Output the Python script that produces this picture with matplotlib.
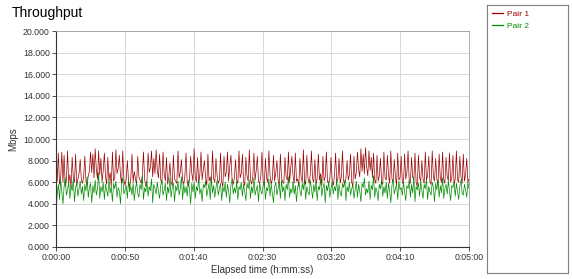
import numpy as np
import matplotlib
matplotlib.use("Agg")
import matplotlib.pyplot as plt
from matplotlib.lines import Line2D

plt.rcParams['font.family'] = ['Liberation Sans', 'DejaVu Sans']

pair1 = [
    8.9, 6.1, 8.7, 5.8, 6.4, 8.8, 6.0, 8.5, 5.6, 6.2, 8.9, 5.9, 6.7, 5.5, 8.3, 6.4, 6.0, 8.6, 5.7, 6.3,
    6.8, 8.1, 6.2, 5.9, 6.5, 8.4, 6.1, 5.7, 6.6, 7.0, 8.8, 6.9, 8.6, 6.4, 9.1, 7.2, 6.3, 8.9, 6.7, 8.2,
    6.0, 7.1, 8.7, 6.5, 5.8, 8.3, 6.2, 6.9, 5.6, 8.8, 6.1, 6.4, 9.0, 6.8, 7.3, 8.5, 6.6, 5.9, 8.9, 6.2,
    5.7, 6.3, 8.0, 6.1, 5.5, 6.4, 8.6, 6.0, 7.0, 6.3, 5.8, 8.4, 6.5, 6.2, 5.9, 6.6, 8.8, 6.3, 5.6, 6.1,
    8.7, 6.9, 7.4, 8.9, 6.5, 8.2, 6.8, 9.0, 7.1, 6.4, 8.6, 6.2, 5.9, 8.8, 6.7, 6.1, 8.3, 5.8, 6.5, 7.8,
    6.0, 5.7, 8.5, 6.3, 6.1, 5.9, 8.9, 6.4, 7.0, 8.1, 6.2, 5.8, 6.6, 8.7, 6.0, 5.6, 6.3, 8.4, 6.8, 6.1,
    9.1, 6.5, 6.0, 8.3, 5.9, 6.7, 8.8, 6.2, 7.2, 8.0, 6.4, 5.7, 8.6, 6.1, 6.5, 5.8, 8.9, 6.3, 6.0, 8.2,
    6.6, 5.9, 6.2, 8.7, 6.0, 5.6, 8.4, 6.5, 6.9, 8.8, 6.1, 7.5, 8.5, 6.3, 5.8, 6.4, 8.1, 6.2, 5.9, 8.9,
    6.4, 6.8, 8.6, 6.0, 5.7, 8.3, 6.6, 6.1, 9.0, 6.3, 5.8, 6.5, 8.7, 6.2, 7.1, 8.4, 6.0, 5.9, 6.6, 8.8,
    6.1, 5.6, 8.2, 6.4, 6.0, 8.9, 6.7, 5.8, 6.3, 8.5, 6.1, 6.9, 8.0, 6.2, 5.7, 8.6, 6.4, 6.0, 5.9, 8.3,
    6.5, 6.2, 8.8, 6.0, 7.3, 8.4, 6.6, 5.9, 8.7, 6.1, 6.3, 5.6, 8.2, 6.5, 6.0, 9.0, 6.2, 5.8, 8.5, 6.4,
    5.9, 6.7, 8.9, 6.3, 6.0, 8.1, 5.8, 6.4, 8.6, 6.2, 6.8, 5.7, 8.4, 6.1, 6.5, 8.8, 6.0, 5.9, 6.3, 8.3,
    6.2, 5.7, 6.6, 8.7, 6.0, 6.3, 8.2, 5.9, 6.5, 8.9, 6.1, 5.8, 6.4, 8.0, 6.2, 6.7, 8.6, 6.0, 5.6, 8.4,
    6.3, 6.9, 8.8, 7.2, 6.5, 9.1, 7.0, 8.6, 6.8, 9.2, 7.4, 6.6, 8.9, 7.1, 8.3, 6.4, 8.7, 6.2, 5.9, 8.5,
    6.1, 6.6, 8.2, 6.0, 5.8, 8.8, 6.4, 6.2, 8.5, 6.7, 5.9, 8.9, 6.3, 6.0, 8.1, 6.5, 5.7, 8.7, 6.2, 6.4,
    8.4, 6.0, 5.8, 8.6, 6.3, 6.9, 8.9, 6.1, 5.9, 8.3, 6.5, 6.2, 8.7, 6.0, 5.6, 8.5, 6.4, 6.1, 8.0, 6.3,
    5.9, 8.8, 6.2, 6.6, 8.4, 6.0, 5.8, 8.9, 6.5, 6.1, 8.2, 6.3, 5.7, 8.6, 6.4, 6.0, 8.8, 6.2, 5.9, 8.3,
    6.6, 6.1, 8.7, 6.0, 6.4, 8.5, 5.8, 6.3, 8.9, 6.2, 6.0, 8.4, 6.5, 5.9, 8.6, 6.1, 6.7, 8.2, 6.0, 6.3,
]

pair2 = [
    3.0, 4.9, 5.8, 4.4, 6.2, 5.1, 4.0, 5.6, 6.4, 4.8, 5.3, 6.0, 4.5, 5.7, 5.2, 6.3, 4.2, 5.5, 5.9, 4.7,
    5.4, 6.1, 4.9, 5.6, 4.3, 5.8, 5.2, 6.5, 4.6, 5.5, 5.9, 4.1, 5.7, 5.0, 6.2, 4.8, 5.4, 6.9, 4.5, 5.6,
    5.1, 6.0, 4.4, 5.8, 5.3, 4.7, 6.3, 5.0, 5.6, 4.2, 5.9, 5.4, 6.1, 4.6, 5.5, 5.2, 4.0, 5.8, 6.4, 4.9,
    5.3, 5.7, 4.5, 6.2, 5.1, 5.6, 4.8, 5.9, 4.3, 5.4, 6.0, 5.0, 4.6, 5.8, 5.3, 6.6, 4.4, 5.5, 5.1, 6.1,
    4.7, 5.6, 5.2, 6.3, 4.1, 5.8, 5.4, 4.9, 6.0, 5.1, 4.5, 5.7, 6.2, 4.8, 5.3, 5.9, 4.3, 5.6, 5.0, 6.4,
    4.6, 5.5, 5.9, 4.2, 5.7, 5.2, 6.1, 4.8, 5.4, 6.5, 4.4, 5.8, 5.0, 5.6, 4.7, 6.2, 5.3, 4.0, 5.9, 5.1,
    6.0, 4.5, 5.6, 5.2, 6.3, 4.9, 5.4, 4.2, 5.8, 5.5, 6.1, 4.7, 5.3, 5.9, 4.4, 6.4, 5.0, 5.7, 4.6, 5.5,
    6.2, 4.8, 5.4, 5.9, 4.3, 5.6, 5.1, 6.0, 4.6, 5.8, 5.2, 4.1, 5.7, 6.3, 4.9, 5.5, 5.0, 6.1, 4.4, 5.6,
    5.3, 6.0, 4.7, 5.8, 5.1, 4.3, 5.9, 5.4, 6.2, 4.5, 5.6, 5.0, 6.4, 4.8, 5.3, 5.7, 4.2, 6.0, 5.2, 4.9,
    5.7, 6.1, 4.4, 5.5, 5.2, 6.3, 4.7, 5.8, 5.0, 4.1, 5.6, 6.0, 4.8, 5.4, 5.9, 4.5, 6.2, 5.1, 5.6, 4.3,
    5.8, 5.3, 6.5, 4.6, 5.4, 5.0, 6.1, 4.9, 5.7, 4.2, 5.5, 6.0, 5.2, 4.7, 5.9, 5.3, 6.3, 4.4, 5.6, 5.1,
    4.8, 6.2, 5.4, 4.5, 5.8, 5.1, 6.0, 4.3, 5.6, 5.3, 6.4, 4.7, 5.5, 5.9, 4.1, 5.7, 5.2, 6.1, 4.6, 5.4,
    6.0, 4.9, 5.6, 5.2, 6.3, 4.4, 5.8, 5.0, 4.7, 5.9, 5.5, 6.2, 4.3, 5.6, 5.1, 6.0, 4.8, 5.4, 5.7, 4.5,
    5.3, 6.1, 4.6, 5.8, 5.2, 4.2, 5.9, 5.5, 6.4, 4.8, 5.4, 5.0, 6.1, 4.4, 5.7, 5.3, 6.6, 4.6, 5.5, 5.1,
    4.3, 5.8, 5.4, 6.2, 4.7, 5.6, 5.0, 6.0, 4.5, 5.9, 5.2, 4.1, 5.7, 6.3, 4.9, 5.4, 5.8, 4.4, 6.1, 5.3,
    5.5, 4.8, 6.0, 5.1, 4.3, 5.7, 5.4, 6.2, 4.6, 5.8, 5.0, 6.5, 4.2, 5.6, 5.3, 5.9, 4.7, 6.1, 5.2, 4.5,
    5.8, 5.4, 6.3, 4.4, 5.6, 5.1, 4.8, 6.0, 5.5, 4.2, 5.9, 5.3, 6.2, 4.6, 5.7, 5.0, 6.4, 4.5, 5.4, 5.8,
    4.9, 6.1, 5.2, 4.3, 5.7, 5.5, 6.0, 4.7, 5.9, 5.1, 4.4, 5.6, 6.2, 5.0, 4.8, 5.8, 5.3, 4.6, 6.0, 5.4,
]

duration_s = 300
xtick_seconds = [0, 50, 100, 150, 200, 250, 300]
xtick_labels = ["0:00:00", "0:00:50", "0:01:40", "0:02:30", "0:03:20", "0:04:10", "0:05:00"]
ytick_values = [0, 2, 4, 6, 8, 10, 12, 14, 16, 18, 20]
series_names = ["Pair 1", "Pair 2"]

t1 = np.linspace(0, duration_s, len(pair1))
t2 = np.linspace(0, duration_s, len(pair2))

red = '#9a0000'
green = '#008c00'

fig = plt.figure(figsize=(5.72, 2.79), dpi=100)
ax = fig.add_axes([0.098, 0.1147, 0.722, 0.774])
ax.plot(t1, pair1, color=red, lw=0.5)
ax.plot(t2, pair2, color=green, lw=0.5)
ax.set_xlim(0, duration_s)
ax.set_ylim(0, 20)
ax.set_xticks(xtick_seconds)
ax.set_xticklabels(xtick_labels)
ax.set_yticks(ytick_values)
ax.set_yticklabels([f"{v:.3f}" for v in ytick_values])
ax.tick_params(labelsize=6.3, length=3, width=0.6, color='#333333', labelcolor='#333333', pad=1.5)
ax.grid(True, color='#d8d8d8', lw=0.7)
ax.set_axisbelow(True)
for s in ['left', 'bottom']:
    ax.spines[s].set_color('#333333')
    ax.spines[s].set_linewidth(0.8)
for s in ['top', 'right']:
    ax.spines[s].set_color('#a0a0a0')
    ax.spines[s].set_linewidth(0.6)
ax.set_xlabel("Elapsed time (h:mm:ss)", fontsize=7, color='#333333', labelpad=2)
ax.set_ylabel("Mbps", fontsize=7, color='#333333', labelpad=3)
fig.text(0.021, 0.955, "Throughput", fontsize=10, va='center', ha='left', color='black')

lax = fig.add_axes([0.851, 0.0215, 0.1416, 0.961])
lax.set_xticks([])
lax.set_yticks([])
for s in lax.spines.values():
    s.set_color('#808080')
    s.set_linewidth(0.8)
handles = [Line2D([0], [0], color=red, lw=0.9), Line2D([0], [0], color=green, lw=0.9)]
leg = lax.legend(handles, series_names, loc='upper left', frameon=False, fontsize=6,
                 handlelength=1.4, handletextpad=0.4, labelspacing=0.5,
                 borderaxespad=0.2, bbox_to_anchor=(0.0, 1.0))
for txt, c in zip(leg.get_texts(), [red, green]):
    txt.set_color(c)

fig.savefig("out.png", dpi=100)
